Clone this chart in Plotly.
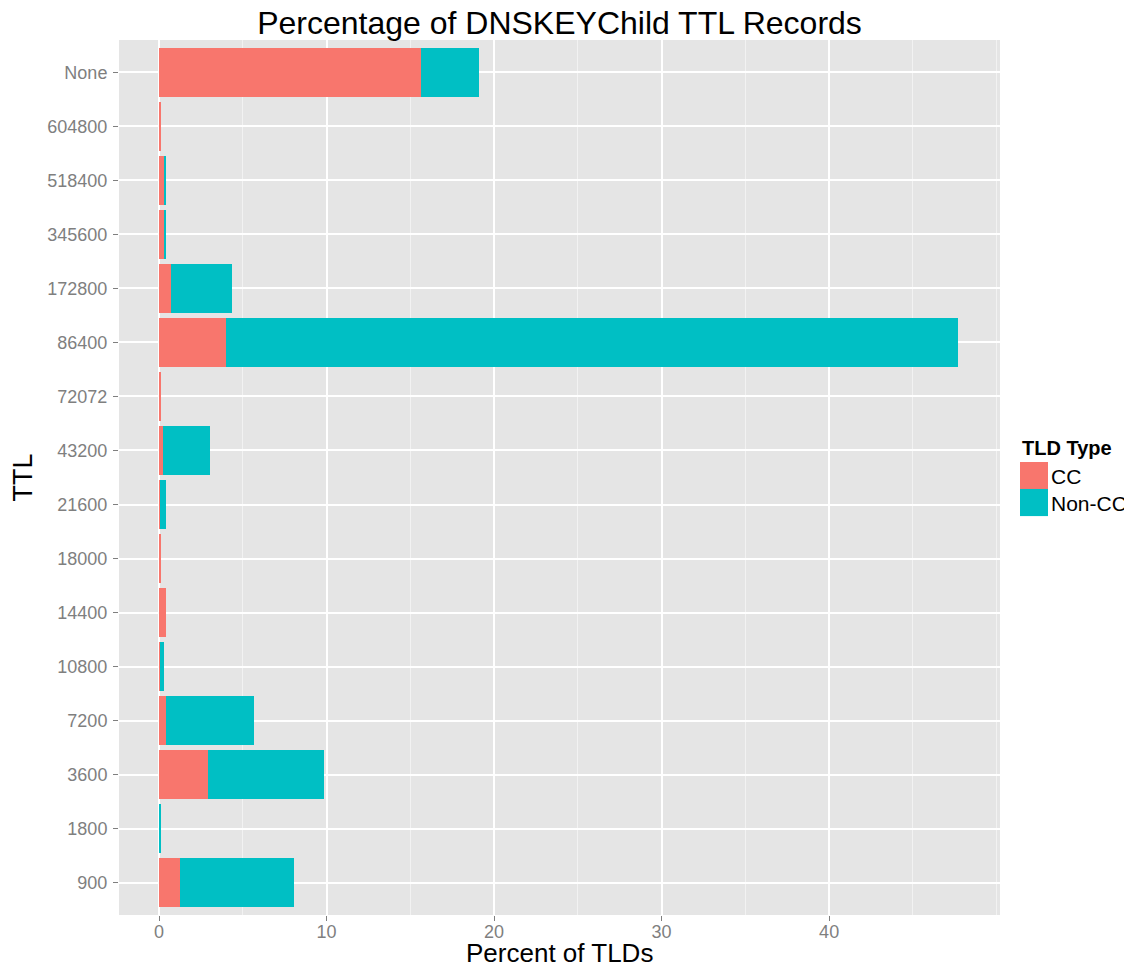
import plotly.graph_objects as go

ttl_labels = ['900', '1800', '3600', '7200', '10800', '14400', '18000', '21600',
              '43200', '72072', '86400', '172800', '345600', '518400', '604800', 'None']
cc_pct = [1.27, 0.0, 2.9, 0.44, 0.06, 0.44, 0.08, 0.06,
          0.22, 0.08, 3.98, 0.74, 0.28, 0.28, 0.08, 15.64]
noncc_pct = [6.8, 0.06, 6.95, 5.21, 0.22, 0.0, 0.0, 0.38,
             2.82, 0.0, 43.72, 3.62, 0.14, 0.14, 0.0, 3.46]
x_ticks = [0, 10, 20, 30, 40]

legend_names = ['CC', 'Non-CC']
cc_color = '#F8766D'
noncc_color = '#00BFC4'
font_name = 'Liberation Sans'

fig = go.Figure()
fig.add_trace(go.Bar(y=ttl_labels, x=cc_pct, orientation='h', name=legend_names[0],
                     marker=dict(color=cc_color, line=dict(width=0)),
                     showlegend=False))
fig.add_trace(go.Bar(y=ttl_labels, x=noncc_pct, orientation='h', name=legend_names[1],
                     marker=dict(color=noncc_color, line=dict(width=0)),
                     showlegend=False))

# legend drawn by hand so the keys are as big as ggplot's
fig.add_annotation(xref='paper', yref='paper', x=1.0227, y=0.5337, xanchor='left', yanchor='middle',
                   text='<b>TLD Type</b>', showarrow=False,
                   font=dict(family=font_name, size=20, color='black'))
key_tops = [0.5177, 0.4869]
for nm, col, top in zip(legend_names, [cc_color, noncc_color], key_tops):
    fig.add_shape(type='rect', xref='paper', yref='paper', x0=1.0227, x1=1.0545,
                  y0=top - 0.031, y1=top, fillcolor=col, line=dict(width=0))
    fig.add_annotation(xref='paper', yref='paper', x=1.0555, y=top - 0.0165, xanchor='left',
                       yanchor='middle', text=nm, showarrow=False,
                       font=dict(family=font_name, size=21, color='black'))

# x axis title as an annotation so it can sit right at the bottom edge
fig.add_annotation(xref='paper', yref='paper', x=0.5, y=-0.0434, xanchor='center', yanchor='middle',
                   text='Percent of TLDs', showarrow=False,
                   font=dict(family=font_name, size=26, color='black'))

# the page body has an 8px margin, so the figure is 8px smaller than the window
fig.update_layout(
    barmode='stack', bargap=0.1,
    width=1124, height=960,
    margin=dict(l=111, r=132, t=32, b=53),
    plot_bgcolor='#E5E5E5', paper_bgcolor='white',
    font=dict(family=font_name, color='black'),
    title=dict(text='Percentage of DNSKEYChild TTL Records', xref='paper', x=0.5, xanchor='center',
               y=1.0, yanchor='top', pad=dict(t=4), font=dict(size=32, color='black')),
)
fig.update_xaxes(range=[-2.39, 50.2], tickvals=x_ticks, automargin=False,
                 ticklabelstandoff=-5,
                 showgrid=True, gridcolor='white', gridwidth=1.6, zeroline=False,
                 minor=dict(dtick=5, tick0=5, showgrid=True, gridcolor='#F2F2F2', gridwidth=0.8),
                 ticks='outside', ticklen=5, tickcolor='#7f7f7f',
                 tickfont=dict(size=18, color='#7f7f7f'))
fig.update_yaxes(categoryorder='array', categoryarray=ttl_labels, range=[-0.6, 15.6],
                 automargin=False, ticklabelstandoff=2,
                 showgrid=True, gridcolor='white', gridwidth=1.6,
                 ticks='outside', ticklen=5, tickcolor='#7f7f7f',
                 tickfont=dict(size=18, color='#7f7f7f'),
                 title=dict(text='TTL', font=dict(size=27, color='black')))

fig.write_html("out.html")
